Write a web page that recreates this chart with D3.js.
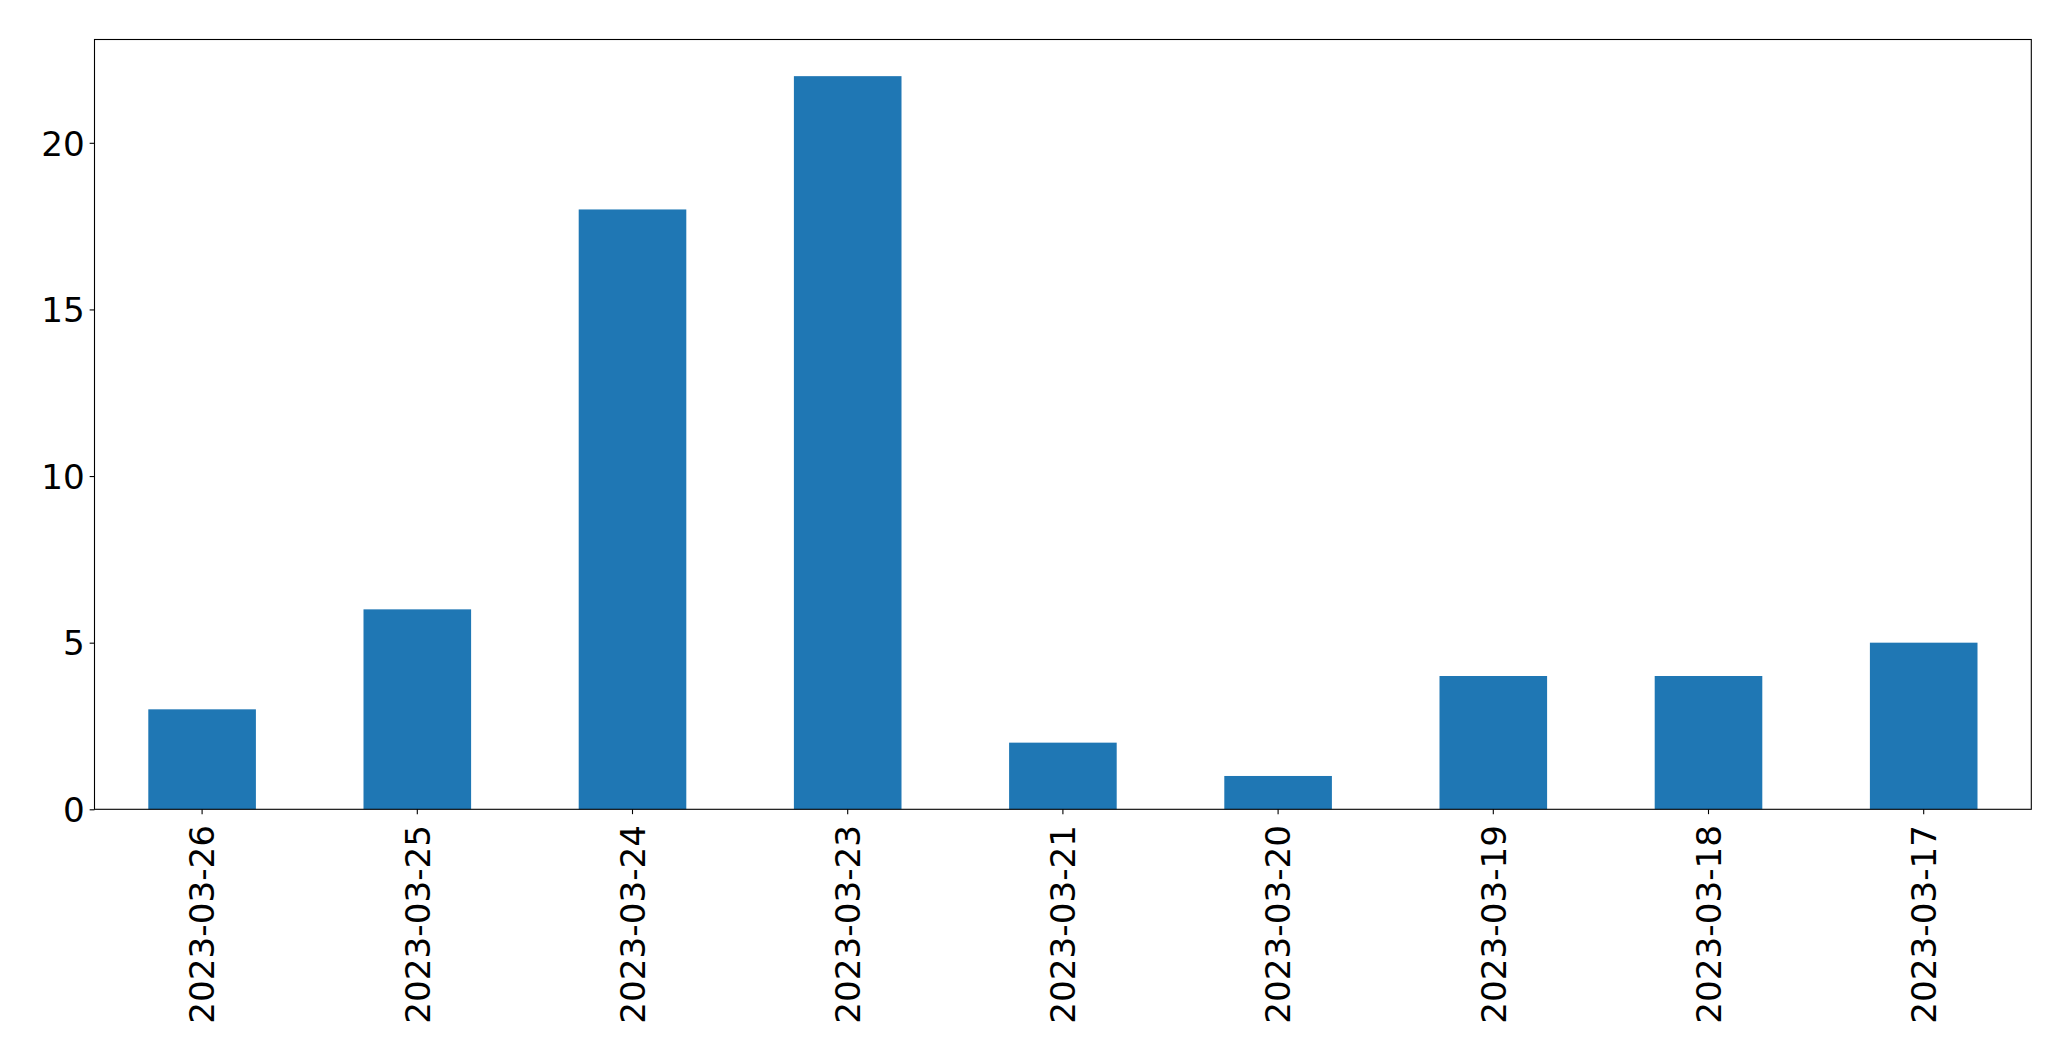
<!DOCTYPE html>
<html><head><meta charset="utf-8">
<script src="https://cdn.jsdelivr.net/npm/d3@7"></script>
<style>html,body{margin:0;padding:0;background:#fff;}svg{display:block;}</style>
</head><body>
<script>
const categories = ["2023-03-26","2023-03-25","2023-03-24","2023-03-23","2023-03-21","2023-03-20","2023-03-19","2023-03-18","2023-03-17"];
const values = [3, 6, 18, 22, 2, 1, 4, 4, 5];
const yTicks = [0, 5, 10, 15, 20];

const W = 2071, H = 1061;
const m = {left: 94.5, right: W - 2031.3, top: 39.5, bottom: H - 809.3};
const iw = W - m.left - m.right, ih = H - m.top - m.bottom;
const fontSize = 34.2;

const svg = d3.select("body").append("svg").attr("width", W).attr("height", H)
  .style("font-family", "'DejaVu Sans', sans-serif");
const g = svg.append("g").attr("transform", `translate(${m.left},${m.top})`);

const x = d3.scaleBand().domain(categories).range([0, iw]).paddingInner(0.5).paddingOuter(0.25);
const y = d3.scaleLinear().domain([0, d3.max(values) * 1.05]).range([ih, 0]);

g.selectAll("rect.bar").data(values).join("rect")
  .attr("class", "bar")
  .attr("x", (d, i) => x(categories[i]))
  .attr("width", x.bandwidth())
  .attr("y", d => y(d))
  .attr("height", d => y(0) - y(d))
  .attr("fill", "#1f77b4");

const yAxis = g.append("g").call(d3.axisLeft(y).tickValues(yTicks).tickFormat(d3.format("d")).tickSize(4.86).tickPadding(4.86));
const xAxis = g.append("g").attr("transform", `translate(0,${ih})`)
  .call(d3.axisBottom(x).tickSize(4.86).tickPadding(4.86));

[yAxis, xAxis].forEach(a => {
  a.select(".domain").remove();
  a.selectAll(".tick line").attr("stroke", "#000").attr("stroke-width", 1.1);
  a.selectAll("text").attr("fill", "#000").style("font-size", fontSize + "px").style("font-family", "'DejaVu Sans', sans-serif");
});
yAxis.selectAll("text").attr("dy", "0.36em");
xAxis.selectAll("text")
  .attr("transform", "rotate(-90)")
  .attr("text-anchor", "end")
  .attr("x", -(4.86 + 4.86 + 6))
  .attr("y", 0)
  .attr("dy", "0.36em");

g.append("rect").attr("x", 0).attr("y", 0).attr("width", iw).attr("height", ih)
  .attr("fill", "none").attr("stroke", "#000").attr("stroke-width", 1.1);
</script>
</body></html>
